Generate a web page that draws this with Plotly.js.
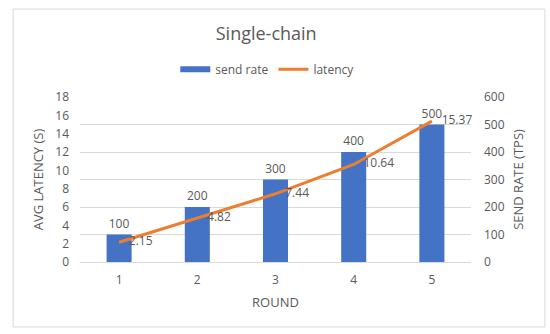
<!DOCTYPE html>
<html><head><meta charset="utf-8">
<script src="https://cdn.plot.ly/plotly-3.0.1.min.js"></script>
<style>html,body{margin:0;padding:0;background:#fff}#chart{width:550px;height:334px}</style>
</head><body><div id="chart"></div>
<script>
const rounds = ['1','2','3','4','5'];
const sendRate = [100, 200, 300, 400, 500];
const latency = [2.15, 4.82, 7.44, 10.64, 15.37];
const latencyLabels = ['2.15','4.82','7.44','10.64','15.37'];

const txt = '#595959';
const fontFam = '"Open Sans", "Liberation Sans", sans-serif';

const traces = [
  {
    type: 'bar', name: 'send rate', x: rounds, y: sendRate, yaxis: 'y', showlegend: false,
    marker: {color: '#4472C4'},
    text: sendRate.map(String), textposition: 'outside', cliponaxis: false,
    textfont: {color: txt, size: 12, family: fontFam},
    hoverinfo: 'skip'
  },
  {
    // legend entry for the bars (wide rectangle like the reference)
    type: 'scatter', mode: 'lines', name: 'send rate', x: [rounds[0]], y: [null], yaxis: 'y',
    line: {color: '#4472C4', width: 6}, hoverinfo: 'skip'
  },
  {
    type: 'scatter', mode: 'lines', name: 'latency', x: rounds, y: latency, yaxis: 'y2',
    line: {color: '#ED7D31', width: 3}, hoverinfo: 'skip'
  },
  {
    type: 'scatter', mode: 'markers+text', name: 'latency labels', showlegend: false,
    x: rounds, y: latency, yaxis: 'y2',
    marker: {size: 14, color: 'rgba(0,0,0,0)'},
    text: latencyLabels, textposition: 'middle right', cliponaxis: false,
    textfont: {color: txt, size: 12, family: fontFam},
    hoverinfo: 'skip'
  }
];

const layout = {
  width: 550, height: 334,
  margin: {l: 80, r: 79, t: 97, b: 72},
  paper_bgcolor: '#fff', plot_bgcolor: '#fff',
  font: {family: fontFam, color: txt, size: 12},
  title: {text: 'Single-chain', x: 0.484, xanchor: 'center', y: 0.9, yanchor: 'middle', yref: 'container',
          font: {size: 18, color: txt, family: fontFam}},
  showlegend: true,
  legend: {orientation: 'h', x: 0.486, xanchor: 'center', xref: 'container', y: 0.793, yanchor: 'middle', yref: 'container',
           font: {size: 12, color: txt}, traceorder: 'normal'},
  bargap: 0.68,
  xaxis: {type: 'category', showgrid: false, zeroline: false, showline: false, ticks: '',
          tickfont: {size: 12, color: txt}, ticklabelstandoff: 9,
          title: {text: 'ROUND', font: {size: 13, color: txt}, standoff: 10}},
  yaxis: {side: 'right', range: [0, 600], dtick: 100, showgrid: true, gridcolor: '#d9d9d9', gridwidth: 1,
          zeroline: true, zerolinecolor: '#d9d9d9', showline: false, ticks: '',
          tickfont: {size: 12, color: txt}, ticklabelstandoff: 12,
          title: {text: 'SEND RATE (TPS)', font: {size: 13, color: txt}, standoff: 10}},
  yaxis2: {side: 'left', overlaying: 'y', range: [0, 18], dtick: 2, showgrid: false, zeroline: false,
           showline: false, ticks: '', tickfont: {size: 12, color: txt}, ticklabelstandoff: 10,
           title: {text: 'AVG LATENCY (S)', font: {size: 13, color: txt}, standoff: 8}},
  shapes: [{type: 'rect', xref: 'paper', yref: 'paper', x0: -0.171, x1: 1.189, y0: -0.394, y1: 1.533,
            line: {color: '#d9d9d9', width: 1}, fillcolor: 'rgba(0,0,0,0)', layer: 'below'}]
};

Plotly.newPlot('chart', traces, layout, {displayModeBar: false, staticPlot: true});
</script></body></html>
